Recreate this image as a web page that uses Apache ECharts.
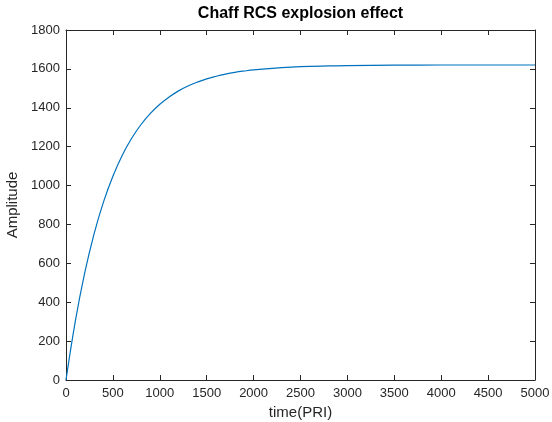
<!DOCTYPE html>
<html>
<head>
<meta charset="utf-8">
<script src="https://cdn.jsdelivr.net/npm/echarts@6/dist/echarts.min.js"></script>
<style>html,body{margin:0;padding:0;background:#fff;}#c{width:552px;height:422px;}</style>
</head>
<body>
<div id="c"></div>
<script>
var titleText = 'Chaff RCS explosion effect';
var xName = 'time(PRI)';
var yName = 'Amplitude';
var timeValues = [0,100,200,300,400,500,600,700,800,900,1000,1100,1200,1300,1400,1500,1600,1700,1800,1900,2000,2200,2400,2600,2800,3000,3500,4000,4500,5000];
var amplitudeValues = [0,304,552,753,916,1048,1156,1243,1314,1371,1418,1456,1487,1512,1532,1549,1562,1573,1582,1589,1595,1603,1609,1613,1615,1617,1619,1620,1620,1620];

var pts = timeValues.map(function(t,i){return [t, amplitudeValues[i]];});
var font = 'Liberation Sans, Arial, sans-serif';
var txt = '#262626';
var chart = echarts.init(document.getElementById('c'), null, {renderer:'canvas'});
var axLine = {show:true, onZero:false, lineStyle:{color:'#262626', width:1}};
var tick = {show:true, inside:true, length:5, lineStyle:{color:'#262626', width:1}};
var fmt = function(v){return String(v);};
chart.setOption({
  animation:false,
  backgroundColor:'#fff',
  graphic:[{type:'text', x:300.5, y:6, style:{text:titleText, x:0, y:0, align:'center', verticalAlign:'top',
    font:'bold 16px Liberation Sans, Arial, sans-serif', fill:'#000'}}],
  grid:{left:66, right:17, top:30, bottom:42, containLabel:false, outerBoundsMode:'none'},
  xAxis:[{
    type:'value', min:0, max:5000, interval:500, position:'bottom',
    name:xName, nameLocation:'middle', nameGap:24,
    nameTextStyle:{fontFamily:font, fontSize:15, color:txt},
    axisLine:axLine, axisTick:tick,
    axisLabel:{fontFamily:font, fontSize:13, color:txt, margin:7, formatter:fmt},
    splitLine:{show:false}
  },{
    type:'value', min:0, max:5000, interval:500, position:'top',
    axisLine:axLine, axisTick:tick, axisLabel:{show:false}, splitLine:{show:false}
  }],
  yAxis:[{
    type:'value', min:0, max:1800, interval:200, position:'left',
    name:yName, nameLocation:'middle', nameGap:44, nameRotate:90,
    nameTextStyle:{fontFamily:font, fontSize:15, color:txt},
    axisLine:axLine, axisTick:tick,
    axisLabel:{fontFamily:font, fontSize:13, color:txt, margin:6, formatter:fmt},
    splitLine:{show:false}
  },{
    type:'value', min:0, max:1800, interval:200, position:'right',
    axisLine:axLine, axisTick:tick, axisLabel:{show:false}, splitLine:{show:false}
  }],
  series:[{
    type:'line', data:pts, smooth:0.4, showSymbol:false,
    lineStyle:{color:'#0072BD', width:1.2}
  }]
});
</script>
</body>
</html>
